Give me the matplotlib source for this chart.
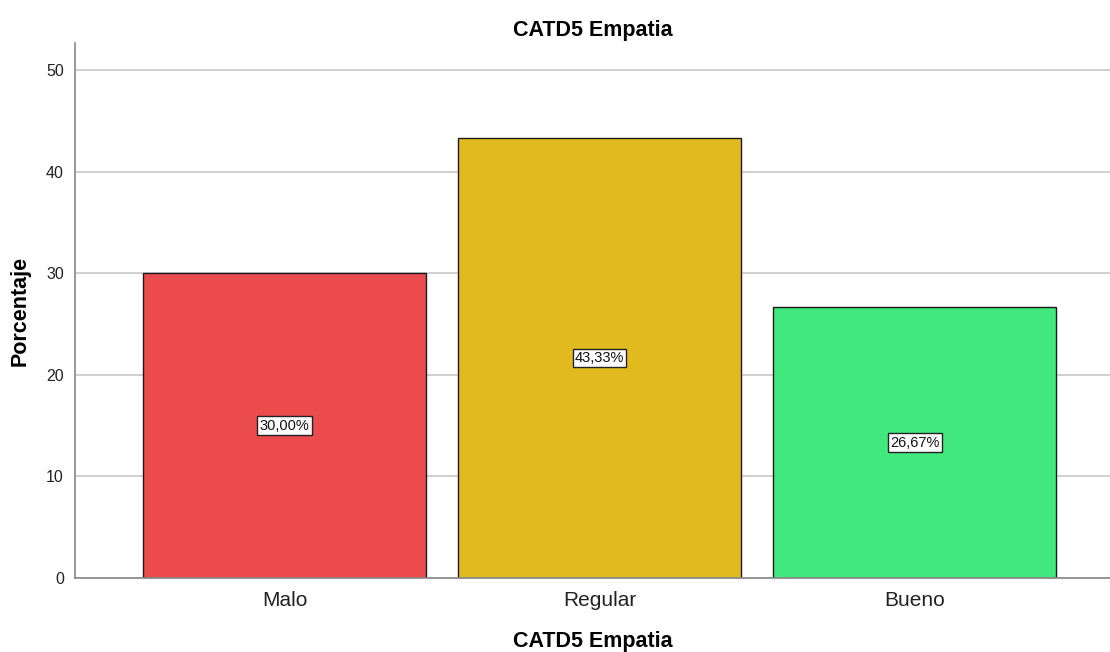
import matplotlib
matplotlib.use("Agg")
import matplotlib.pyplot as plt

plt.rcParams['font.family'] = ['Liberation Sans', 'DejaVu Sans']

categories = ["Malo", "Regular", "Bueno"]
values = [30.00, 43.33, 26.67]
labels = ["30,00%", "43,33%", "26,67%"]
colors = ["#EC4B4D", "#E0BA1E", "#40E87E"]
yticks = [0, 10, 20, 30, 40, 50]

fig = plt.figure(figsize=(11.10, 6.52), dpi=100)
ax = fig.add_axes([75/1110, 1-578/652, 1-75/1110, (578-43)/652])

x = list(range(len(categories)))
ax.set_axisbelow(True)
ax.yaxis.grid(True, color="#C8C8C8", linewidth=1.2)
bars = ax.bar(x, values, width=0.898, color=colors, edgecolor="#1a1a1a", linewidth=1.0, zorder=2)
for xi, v, lab in zip(x, values, labels):
    ax.text(xi, v/2, lab, ha="center", va="center", fontsize=10.5, color="#111111", zorder=3,
            bbox=dict(boxstyle="square,pad=0.15", facecolor="white", edgecolor="#222222", linewidth=1))

ax.set_xlim(-0.665, 2.62)
ax.set_ylim(0, 52.66)
ax.set_yticks(yticks)
ax.set_xticks(x)
ax.set_xticklabels(categories, fontsize=15, color="#222222")
ax.tick_params(axis="y", labelsize=11.5, colors="#222222", length=0, pad=8)
ax.tick_params(axis="x", length=0, pad=9.5)
for s in ["top", "right"]:
    ax.spines[s].set_visible(False)
for s in ["left", "bottom"]:
    ax.spines[s].set_color("#888888")
    ax.spines[s].set_linewidth(1.2)

ax.set_title("CATD5 Empatia", fontsize=15.5, fontweight="bold", pad=5)
ax.set_ylabel("Porcentaje", fontsize=15.5, fontweight="bold", labelpad=11)
ax.set_xlabel("CATD5 Empatia", fontsize=15.5, fontweight="bold", labelpad=15)

fig.savefig("out.png", dpi=100)
